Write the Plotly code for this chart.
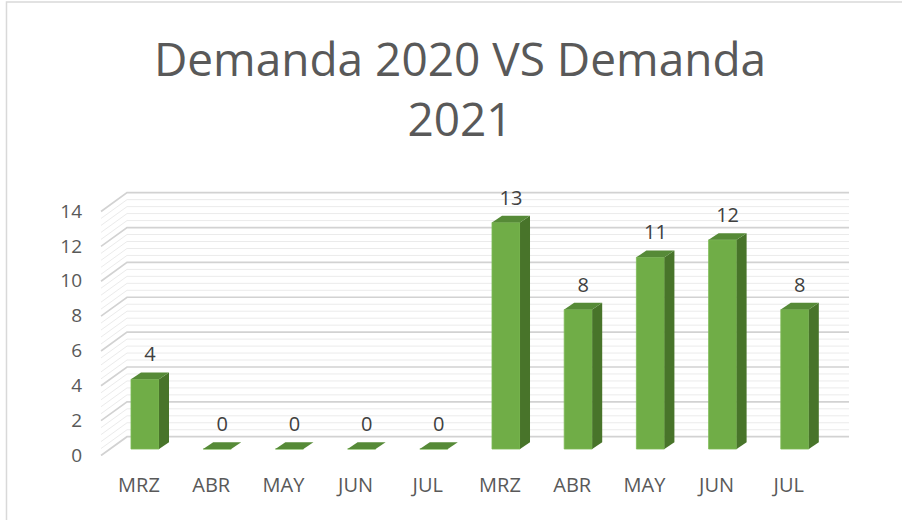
import numpy as np
import plotly.graph_objects as go

# ---- data ----
categories = ["MRZ", "ABR", "MAY", "JUN", "JUL", "MRZ", "ABR", "MAY", "JUN", "JUL"]
values = [4, 0, 0, 0, 0, 13, 8, 11, 12, 8]
y_ticks = [0, 2, 4, 6, 8, 10, 12, 14]
title_text = "Demanda 2020 VS Demanda<br>2021"

# ---- geometry (data units) ----
pos = np.arange(len(categories))
W = 0.388          # bar front width
DX, DY = 0.1385, 0.385   # bar depth offset
WALL_FX, WALL_FY = -0.609, -0.373   # left wall front edge offset
WALL_BX, WALL_BY = -0.249, 0.706    # back wall offset
WALL_RX = 9.751

FRONT = "#70AD47"
TOP = "#568A37"
SIDE = "#48742A"
TXT = "#595959"

fig = go.Figure()

# walls / gridlines
shapes = []
minor = np.round(np.arange(0, 14.0001, 0.4), 2)
for v in minor:
    major = abs(v / 2 - round(v / 2)) < 1e-6
    path = f"M {WALL_FX},{v + WALL_FY} L {WALL_BX},{v + WALL_BY} L {WALL_RX},{v + WALL_BY}"
    shapes.append(dict(type="path", path=path, xref="x", yref="y", layer="below",
                       line=dict(color="#D2D2D2" if major else "#EBEBEB",
                                 width=1.7 if major else 1)))

# chart border
shapes.append(dict(type="rect", xref="paper", yref="paper", x0=-0.1157, x1=1.08,
                   y0=-0.3, y1=1.6157, line=dict(color="#D9D9D9", width=1.5), layer="below"))

# front faces
fig.add_trace(go.Bar(x=pos, y=values, width=W, marker=dict(color=FRONT, line=dict(color="#7DBA55", width=0.8)),
                     hoverinfo="skip", showlegend=False))

# side and top faces
for x, v in zip(pos, values):
    r = x + W / 2
    l = x - W / 2
    if v > 0:
        fig.add_trace(go.Scatter(x=[r, r + DX, r + DX, r, r], y=[0, DY, v + DY, v, 0],
                                 fill="toself", fillcolor=SIDE, mode="lines",
                                 line=dict(width=0, color=SIDE), hoverinfo="skip", showlegend=False))
    fig.add_trace(go.Scatter(x=[l, r, r + DX, l + DX, l], y=[v, v, v + DY, v + DY, v],
                             fill="toself", fillcolor=TOP, mode="lines",
                             line=dict(width=0, color=TOP), hoverinfo="skip", showlegend=False))

# data labels
fig.add_trace(go.Scatter(x=pos + DX / 2, y=np.array(values) + DY + 0.35, mode="text",
                         text=[str(v) for v in values], textposition="top center",
                         textfont=dict(family="Open Sans", size=20, color="#404040"),
                         hoverinfo="skip", showlegend=False))

fig.update_layout(
    width=902, height=520, autosize=False,
    margin=dict(l=95, r=42, t=175, b=64),
    paper_bgcolor="white", plot_bgcolor="rgba(0,0,0,0)",
    shapes=shapes,
    title=dict(text=title_text, x=0.51, xref="container", xanchor="center",
               y=1 - 76 / 520, yref="container", yanchor="top",
               font=dict(family="Open Sans", size=46, color=TXT)),
    xaxis=dict(range=[-0.6925, 9.903], tickvals=list(pos), ticktext=categories,
               showgrid=False, zeroline=False, showline=False, ticks="",
               tickfont=dict(family="Open Sans", size=20, color=TXT),
               ticklabelstandoff=15, ticklabelshift=-6, fixedrange=True),
    yaxis=dict(range=[-0.40, 15.72], tickvals=y_ticks, ticktext=[str(t) for t in y_ticks],
               showgrid=False, zeroline=False, showline=False, ticks="",
               tickfont=dict(family="Open Sans", size=19, color=TXT),
               ticklabelstandoff=12, ticklabelshift=6, fixedrange=True),
    showlegend=False,
)

fig.write_html("out.html", config={"displayModeBar": False},
               post_script="document.body.style.margin='0';document.body.style.overflow='hidden';")
